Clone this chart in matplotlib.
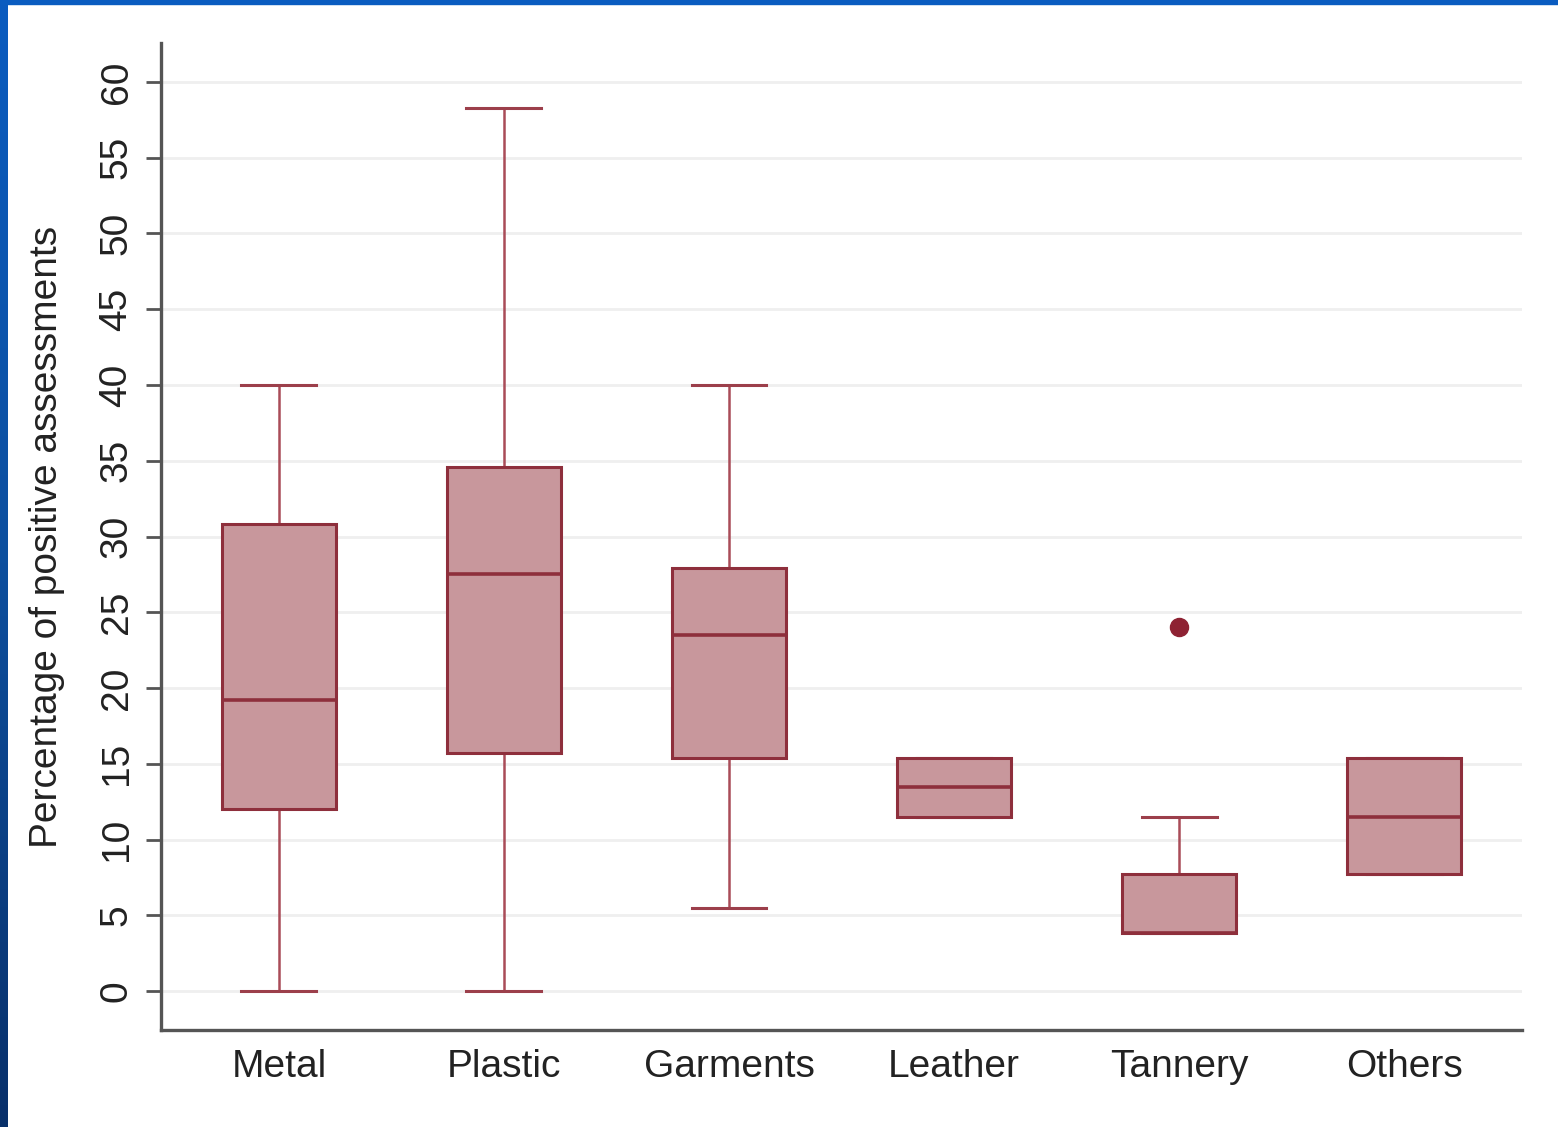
import numpy as np
import matplotlib.pyplot as plt
from matplotlib.patches import Rectangle

# data
sectors = ["Metal", "Plastic", "Garments", "Leather", "Tannery", "Others"]
whisker_low = [0.0, 0.0, 5.5, 11.5, 3.8, 7.7]
q1 = [12.0, 15.7, 15.4, 11.5, 3.8, 7.7]
median = [19.2, 27.5, 23.5, 13.5, 3.8, 11.5]
q3 = [30.8, 34.6, 27.9, 15.4, 7.7, 15.4]
whisker_high = [40.0, 58.3, 40.0, 15.4, 11.5, 15.4]
outliers = [[], [], [], [], [24.0], []]
y_ticks = [0, 5, 10, 15, 20, 25, 30, 35, 40, 45, 50, 55, 60]

edge = "#8e2f3c"
fill = "#c8979c"
whisk = "#a94c58"
text_col = "#222222"

plt.rcParams['font.family'] = ['Liberation Sans', 'DejaVu Sans']

fig = plt.figure(figsize=(15.58, 11.27), dpi=100)
fig.patch.set_facecolor("white")

# slide frame (blue strips at left and top)
grad = np.linspace(0, 1, 256).reshape(-1, 1)
strip = fig.add_axes([0, 0, 8 / 1558, 1])
strip.imshow(grad, aspect="auto", cmap=plt.matplotlib.colors.LinearSegmentedColormap.from_list(
    "b", ["#0a5cc0", "#0d4f9e", "#08306a"]), extent=(0, 1, 0, 1))
strip.axis("off")
fig.patches.append(Rectangle((0, 1 - 4 / 1127), 1, 4 / 1127, transform=fig.transFigure,
                             color="#0a5cc0", zorder=5))

ax = fig.add_axes([161 / 1558, 97 / 1127, (1522 - 161) / 1558, (1030 - 43) / 1127])

stats = []
for i, name in enumerate(sectors):
    stats.append(dict(label=name, whislo=whisker_low[i], q1=q1[i], med=median[i],
                      q3=q3[i], whishi=whisker_high[i], fliers=outliers[i]))

positions = np.arange(1, len(sectors) + 1)
ax.bxp(stats, positions=positions, widths=0.507, patch_artist=True,
       boxprops=dict(facecolor=fill, edgecolor=edge, linewidth=2.2, zorder=4),
       medianprops=dict(color=edge, linewidth=2.6, zorder=5),
       whiskerprops=dict(color=whisk, linewidth=1.8, zorder=2),
       capprops=dict(color="#9c3f4b", linewidth=2.2, zorder=2),
       flierprops=dict(marker="o", markerfacecolor="#8e2233", markeredgecolor="#8e2233",
                       markersize=13),
       capwidths=0.333)

ax.set_xlim(0.476, 6.524)
ax.set_ylim(-2.57, 62.57)
ax.set_yticks(y_ticks)
ax.set_yticklabels([str(t) for t in y_ticks], rotation=90, va="center")
ax.set_xticks(positions)
ax.set_xticklabels(sectors)
ax.tick_params(axis="y", length=11, width=2, color="#555555", labelsize=28, pad=8,
               labelcolor=text_col)
ax.tick_params(axis="x", length=0, labelsize=28, pad=14, labelcolor=text_col)
ax.grid(axis="y", color="#efefef", linewidth=2)
ax.set_axisbelow(True)

for s in ["top", "right"]:
    ax.spines[s].set_visible(False)
for s in ["left", "bottom"]:
    ax.spines[s].set_color("#555555")
    ax.spines[s].set_linewidth(2.4)

ax.set_ylabel("Percentage of positive assessments", fontsize=28, color=text_col, labelpad=24)

fig.savefig("out.png", dpi=100)
